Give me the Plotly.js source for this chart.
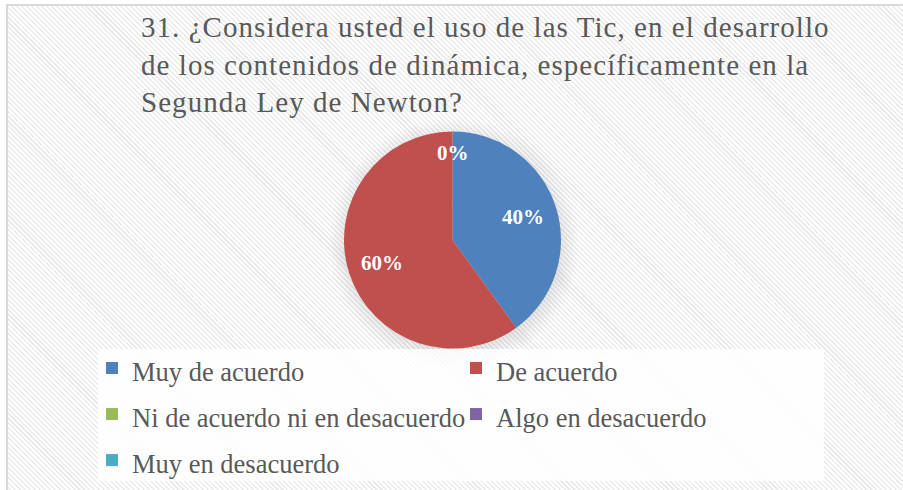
<!DOCTYPE html>
<html>
<head>
<meta charset="utf-8">
<script src="https://cdn.plot.ly/plotly-3.0.1.min.js"></script>
<style>
  html, body { margin: 0; padding: 0; background: #ffffff; }
  #frame {
    position: absolute; left: 6px; top: 4px; width: 910px; height: 500px;
    border-left: 2px solid #d9d9d9; border-top: 2px solid #d9d9d9;
    background:
      radial-gradient(circle at 446px 238px, rgba(0,0,0,0.10) 104px, rgba(0,0,0,0) 126px),
      repeating-linear-gradient(45deg, #ffffff 0px, #ffffff 2px, #ebebeb 2px, #ebebeb 3.5px);
  }
  #chart { position: absolute; left: 0; top: 0; width: 903px; height: 490px; }
  #chart g.annotation[data-index="0"] text { letter-spacing: 1.05px; }
</style>
</head>
<body>
<div id="frame"></div>
<div id="chart"></div>
<script>
const titleLines = [
  "31. ¿Considera usted el uso de las Tic, en el desarrollo",
  "de los contenidos de dinámica, específicamente en la",
  "Segunda Ley de Newton?"
];
const categories = ["Muy de acuerdo", "De acuerdo", "Ni de acuerdo ni en desacuerdo", "Algo en desacuerdo", "Muy en desacuerdo"];
const values = [40, 60, 0, 0, 0];
const colors = ["#4F81BD", "#C0504D", "#9BBB59", "#8064A2", "#4BACC6"];

const W = 903, H = 490;
const serif = "Liberation Serif";
const txtColor = "#595959";

// pie geometry (pixels)
const cx = 452.5, cy = 240, R = 108.5;

const trace = {
  type: "pie",
  labels: categories.map(c => '<span style="font-size:26.5px">' + c + '</span>'),
  values: values,
  sort: false,
  direction: "clockwise",
  rotation: 0,
  marker: { colors: colors, line: { width: 0 } },
  textinfo: "none",
  hoverinfo: "label+percent",
  domain: { x: [(cx - R) / W, (cx + R) / W], y: [1 - (cy + R) / H, 1 - (cy - R) / H] }
};

// data labels (Excel-style placement, derived from the values)
const total = values.reduce((a, b) => a + b, 0);
const labelAnns = [];
const seen = {};
let cum = 0;
values.forEach(v => {
  const frac = v / total;
  const ang = (v > 0 ? (cum + frac / 2) : cum) * 2 * Math.PI;
  const r = v > 0 ? 0.68 * R : 0.80 * R;
  const px = cx + r * Math.sin(ang);
  const py = cy - r * Math.cos(ang);
  const key = Math.round(px) + "," + Math.round(py);
  if (!seen[key]) {
    seen[key] = true;
    labelAnns.push({
      xref: "paper", yref: "paper",
      x: px / W, y: 1 - py / H,
      xanchor: "center", yanchor: "middle",
      showarrow: false,
      text: Math.round(frac * 100) + "%",
      font: { family: serif, size: 21, color: "#ffffff", weight: "bold" }
    });
  }
  cum += frac;
});

const layout = {
  width: W, height: H,
  margin: { l: 0, r: 0, t: 0, b: 0 },
  paper_bgcolor: "rgba(0,0,0,0)",
  plot_bgcolor: "rgba(0,0,0,0)",
  font: { family: serif },
  showlegend: true,
  legend: {
    orientation: "h",
    x: 92 / W, xanchor: "left",
    y: 1 - 340 / H, yanchor: "top",
    entrywidth: 319,
    bgcolor: "rgba(0,0,0,0)",
    font: { family: serif, size: 33.1, color: txtColor },
    traceorder: "normal"
  },
  shapes: [
    {
      type: "rect", xref: "paper", yref: "paper", layer: "below",
      x0: 98 / W, x1: 824 / W, y0: 1 - 481 / H, y1: 1 - 349 / H,
      fillcolor: "rgba(255,255,255,0.82)", line: { width: 0 }
    }
  ],
  annotations: [
    {
      xref: "paper", yref: "paper",
      x: 139 / W, xanchor: "left",
      y: 1 - 9 / H, yanchor: "top",
      align: "left",
      showarrow: false,
      text: titleLines.join("<br>"),
      font: { family: serif, size: 29, color: txtColor }
    }
  ].concat(labelAnns)
};

Plotly.newPlot("chart", [trace], layout, { displayModeBar: false, staticPlot: true });
</script>
</body>
</html>
